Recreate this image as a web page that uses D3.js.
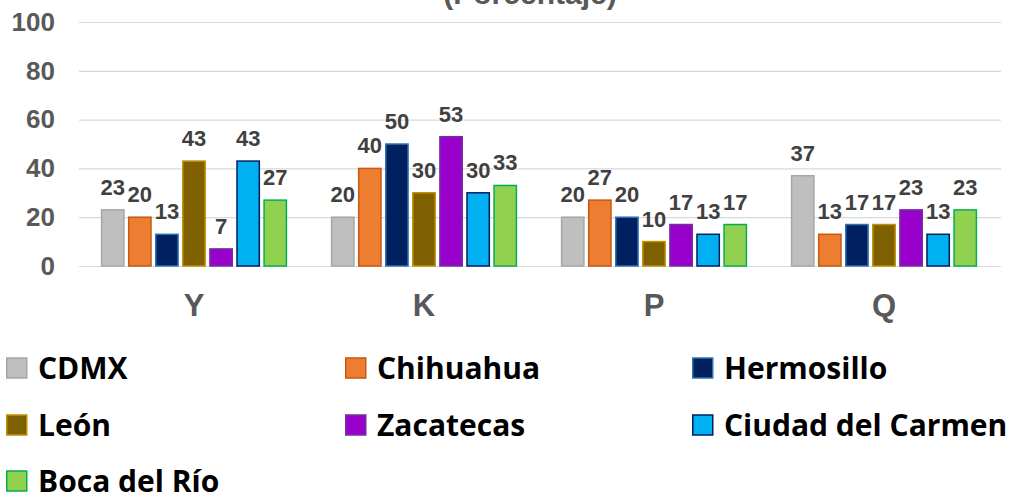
<!DOCTYPE html>
<html>
<head>
<meta charset="utf-8">
<script src="https://cdn.jsdelivr.net/npm/d3@7"></script>
<style>
  body { margin: 0; background: #fff; }
  svg { display: block; }
</style>
</head>
<body>
<svg width="1012" height="497"></svg>
<script>
var categories = ["Y", "K", "P", "Q"];
var cities = ["CDMX", "Chihuahua", "Hermosillo", "León", "Zacatecas", "Ciudad del Carmen", "Boca del Río"];
var values = {
  "CDMX":              [23, 20, 20, 37],
  "Chihuahua":         [20, 40, 27, 13],
  "Hermosillo":        [13, 50, 20, 17],
  "León":              [43, 30, 10, 17],
  "Zacatecas":         [7, 53, 17, 23],
  "Ciudad del Carmen": [43, 30, 13, 13],
  "Boca del Río":      [27, 33, 17, 23]
};
var yTicks = [0, 20, 40, 60, 80, 100];
var fills   = ["#bfbfbf", "#ed7d31", "#002060", "#7f6000", "#9900cc", "#00b0f0", "#92d050"];
var strokes = ["#a6a6a6", "#c55a11", "#2e75b6", "#bf9000", "#7030a0", "#002060", "#00b050"];

var svg = d3.select("svg");
var plotLeft = 79, plotRight = 999, plotTop = 22, plotBottom = 266;

var x0 = d3.scaleBand().domain(categories).range([plotLeft, plotRight]).paddingInner(0.19).paddingOuter(0.095);
var x1 = d3.scaleBand().domain(cities).range([0, x0.bandwidth()]).paddingInner(0.12);
var y = d3.scaleLinear().domain([0, 100]).range([plotBottom, plotTop]);

// title (mostly cut off at the top)
svg.append("text")
  .attr("x", 530).attr("y", 4)
  .attr("text-anchor", "middle")
  .attr("font-family", "Liberation Sans, Arial, sans-serif")
  .attr("font-weight", "bold").attr("font-size", 30)
  .attr("fill", "#595959")
  .text("(Porcentaje)");

// gridlines
svg.append("g")
  .selectAll("line").data(yTicks).join("line")
  .attr("x1", plotLeft).attr("x2", plotRight + 2)
  .attr("y1", d => y(d) + 0.5).attr("y2", d => y(d) + 0.5)
  .attr("stroke", "#d9d9d9").attr("stroke-width", 1.2);

// y axis labels
var yAxis = svg.append("g")
  .attr("transform", "translate(55,0)")
  .call(d3.axisLeft(y).tickValues(yTicks).tickSize(0).tickPadding(0));
yAxis.select(".domain").remove();
yAxis.selectAll("text")
  .attr("font-family", "Liberation Sans, Arial, sans-serif")
  .attr("font-weight", "bold").attr("font-size", 26)
  .attr("fill", "#595959");

// category axis
var xAxis = svg.append("g")
  .attr("transform", "translate(0," + plotBottom + ")")
  .call(d3.axisBottom(x0).tickSize(0).tickPadding(28));
xAxis.select(".domain").remove();
xAxis.selectAll("text")
  .attr("font-family", "Liberation Sans, Arial, sans-serif")
  .attr("font-weight", "bold").attr("font-size", 31)
  .attr("fill", "#595959");

// bars
var groups = svg.append("g").selectAll("g").data(categories).join("g")
  .attr("transform", d => "translate(" + x0(d) + ",0)");

groups.each(function(cat, ci) {
  var g = d3.select(this);
  var rows = cities.map((c, si) => ({ city: c, si: si, v: values[c][ci] }));
  g.selectAll("rect").data(rows).join("rect")
    .attr("x", d => x1(d.city) + 0.75)
    .attr("y", d => y(d.v))
    .attr("width", x1.bandwidth() - 1.5)
    .attr("height", d => y(0) - y(d.v))
    .attr("fill", d => fills[d.si])
    .attr("stroke", d => strokes[d.si])
    .attr("stroke-width", 1.5);
  g.selectAll("text").data(rows).join("text")
    .attr("x", d => x1(d.city) + x1.bandwidth() / 2)
    .attr("y", d => y(d.v) - 15)
    .attr("text-anchor", "middle")
    .attr("font-family", "Liberation Sans, Arial, sans-serif")
    .attr("font-weight", "bold").attr("font-size", 22)
    .attr("fill", "#404040")
    .text(d => d.v);
});

// legend
var colX = [6, 345, 692], rowY = [368, 425, 481];
var legend = svg.append("g").selectAll("g").data(cities).join("g")
  .attr("transform", (d, i) => "translate(" + colX[i % 3] + "," + rowY[Math.floor(i / 3)] + ")");
legend.append("rect")
  .attr("x", 0.75).attr("y", -10).attr("width", 20).attr("height", 20)
  .attr("fill", (d, i) => fills[i])
  .attr("stroke", (d, i) => strokes[i]).attr("stroke-width", 1.5);
legend.append("text")
  .attr("x", 32).attr("y", 0).attr("dy", "0.36em")
  .attr("font-family", "Open Sans, sans-serif")
  .attr("font-weight", "bold").attr("font-size", 30)
  .attr("fill", "#000")
  .text(d => d);
</script>
</body>
</html>
